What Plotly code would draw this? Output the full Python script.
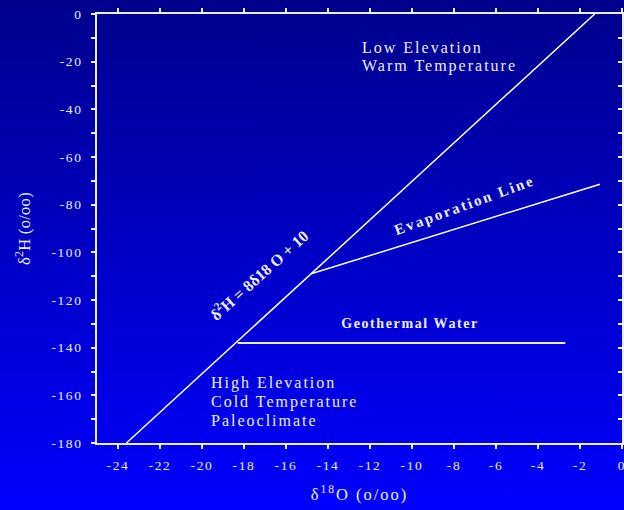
import base64
import plotly.graph_objects as go

# ---- data ----
meteoric_x = [-23.6, -1.3]
meteoric_y = [-180, 0]
evap_x = [-14.8, -1.05]
evap_y = [-109, -71.4]
geo_x = [-18.3, -2.7]
geo_y = [-138, -138]

x_ticks = [-24, -22, -20, -18, -16, -14, -12, -10, -8, -6, -4, -2, 0]
y_ticks = [0, -20, -40, -60, -80, -100, -120, -140, -160, -180]

FG = "#EDEDF8"
SERIF = "Liberation Serif, Times New Roman, serif"

W, H = 624, 510
ML, MR, MT, MB = 97, 2, 14, 67
PW, PH = W - ML - MR, H - MT - MB

svg = (
    "<svg xmlns='http://www.w3.org/2000/svg' width='624' height='510' preserveAspectRatio='none'>"
    "<defs><linearGradient id='g' x1='0' y1='0' x2='0' y2='1'>"
    "<stop offset='0' stop-color='#00008C'/><stop offset='1' stop-color='#0000FF'/>"
    "</linearGradient></defs><rect width='624' height='510' fill='url(#g)'/></svg>"
)
src = "data:image/svg+xml;base64," + base64.b64encode(svg.encode()).decode()

fig = go.Figure()
line_style = dict(color="white", width=1.5)
fig.add_trace(go.Scatter(x=meteoric_x, y=meteoric_y, mode="lines", line=line_style, hoverinfo="skip"))
fig.add_trace(go.Scatter(x=evap_x, y=evap_y, mode="lines", line=line_style, hoverinfo="skip"))
fig.add_trace(go.Scatter(x=geo_x, y=geo_y, mode="lines", line=dict(color="#E8E8FF", width=2), hoverinfo="skip"))
# invisible trace to keep the right-hand axis alive
fig.add_trace(go.Scatter(x=[-25], y=[-180], yaxis="y2", mode="markers", marker=dict(opacity=0), hoverinfo="skip"))

fig.add_layout_image(dict(
    source=src, xref="paper", yref="paper",
    x=-ML / PW, y=1 + MT / PH, sizex=W / PW, sizey=H / PH,
    xanchor="left", yanchor="top", sizing="stretch", layer="below",
))

ann_font = dict(family=SERIF, size=16, color=FG)
for txt, yy in [("Low Elevation", -13.9), ("Warm Temperature", -21.8)]:
    fig.add_annotation(x=-12.48, y=yy, text=txt, showarrow=False, xanchor="left", yanchor="middle",
                       align="left", font=ann_font)
for txt, yy in [("High Elevation", -154.9), ("Cold Temperature", -162.9), ("Paleoclimate", -170.4)]:
    fig.add_annotation(x=-19.67, y=yy, text=txt, showarrow=False, xanchor="left", yanchor="middle",
                       align="left", font=ann_font)
fig.add_annotation(x=-7.48, y=-80.2, text="Evaporation Line", showarrow=False, textangle=-20,
                   font=dict(family=SERIF, size=15, color=FG, weight="bold"))
fig.add_annotation(x=-10.1, y=-129.8, text="Geothermal Water", showarrow=False,
                   font=dict(family=SERIF, size=14, color=FG, weight="bold"))
fig.add_annotation(x=-17.33, y=-109.5, text="δ<sup>2</sup>H = 8δ18 O + 10", showarrow=False, textangle=-42,
                   font=dict(family=SERIF, size=16, color=FG, weight="bold"))

fig.update_layout(
    width=W, height=H,
    margin=dict(l=ML, r=MR, t=MT, b=MB, pad=0, autoexpand=False),
    paper_bgcolor="#0000C0",
    plot_bgcolor="rgba(0,0,0,0)",
    showlegend=False,
    font=dict(family=SERIF, color=FG, size=13),
    xaxis=dict(
        range=[-25, 0], tickvals=x_ticks, ticktext=[str(v) for v in x_ticks],
        showgrid=False, zeroline=False, showline=True, linecolor=FG, linewidth=1.5,
        ticks="outside", ticklen=4, tickcolor=FG, tickwidth=1.5, mirror="ticks",
        ticklabelstandoff=5, ticklabeloverflow="allow", automargin=False,
        tickfont=dict(family=SERIF, size=13.5, color=FG),
        title=dict(text="δ<sup>18</sup>O (o/oo)", font=dict(family=SERIF, size=16.5, color=FG), standoff=16),
    ),
    yaxis=dict(
        range=[-180, 0], tickvals=y_ticks, ticktext=[str(v) for v in y_ticks],
        showgrid=False, zeroline=False, showline=True, linecolor=FG, linewidth=1.5,
        ticks="outside", ticklen=4, tickcolor=FG, tickwidth=1.5,
        ticklabelstandoff=6, ticklabeloverflow="allow", automargin=False,
        minor=dict(dtick=10, ticks="outside", ticklen=4, tickcolor=FG, tickwidth=1.5, showgrid=False),
        tickfont=dict(family=SERIF, size=13.5, color=FG),
        title=dict(text="δ<sup>2</sup>H (o/oo)", font=dict(family=SERIF, size=16.5, color=FG), standoff=23),
    ),
    yaxis2=dict(
        range=[-180, 0], overlaying="y", side="right", anchor="x", automargin=False,
        dtick=10, showticklabels=False, showgrid=False, zeroline=False,
        showline=True, linecolor=FG, linewidth=1.5,
        ticks="inside", ticklen=4, tickcolor=FG, tickwidth=1.5,
    ),
)

post = """
(function(){
  document.documentElement.style.margin='0';
  document.body.style.margin='0';
  document.body.style.overflow='hidden';
  function sp(){
    var gd = document.getElementById('{plot_id}');
    gd.querySelectorAll('.xtick text, .ytick text').forEach(function(e){e.style.letterSpacing='1.6px';});
    gd.querySelectorAll('.xtitle').forEach(function(e){e.style.letterSpacing='2px';});
    gd.querySelectorAll('.ytitle').forEach(function(e){e.style.letterSpacing='0.3px';});
    var anns = gd.querySelectorAll('.annotation-text');
    anns.forEach(function(e, i){
      if (i < 5) { e.style.letterSpacing = '2px'; }
      else if (i === 5) { e.style.letterSpacing = '2.2px'; }
      else if (i === 6) { e.style.letterSpacing = '1.6px'; }
    });
  }
  sp();
  setTimeout(sp, 0);
  var gd = document.getElementById('{plot_id}');
  if (gd && gd.on) { gd.on('plotly_afterplot', sp); }
})();
"""

fig.write_html("out.html", post_script=post, config={"displayModeBar": False})
